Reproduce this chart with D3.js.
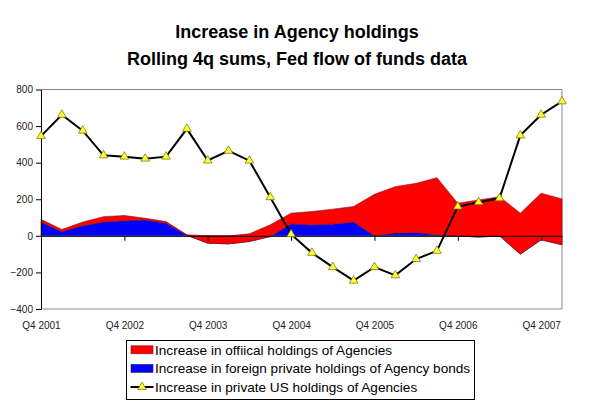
<!DOCTYPE html>
<html>
<head>
<meta charset="utf-8">
<script src="https://cdn.jsdelivr.net/npm/d3@7"></script>
<style>
	body { margin: 0; background: #fff; }
	svg { font-family: "Liberation Sans", Arial, sans-serif; }
</style>
</head>
<body>
<div id="chart-area"></div>
<script>
const FWIDTH = 593,
	FHEIGHT = 405;
const MARGIN = { LEFT: 41, RIGHT: 31, TOP: 89.5, BOTTOM: 96 };

// quarters, Q4 2001 .. Q1 2008
const quarters = [
	"Q4 2001", "Q1 2002", "Q2 2002", "Q3 2002", "Q4 2002", "Q1 2003", "Q2 2003",
	"Q3 2003", "Q4 2003", "Q1 2004", "Q2 2004", "Q3 2004", "Q4 2004", "Q1 2005",
	"Q2 2005", "Q3 2005", "Q4 2005", "Q1 2006", "Q2 2006", "Q3 2006", "Q4 2006",
	"Q1 2007", "Q2 2007", "Q3 2007", "Q4 2007", "Q1 2008",
];
const tickLabels = ["Q4 2001", "Q4 2002", "Q4 2003", "Q4 2004", "Q4 2005", "Q4 2006", "Q4 2007"];
const yTicks = [-400, -200, 0, 200, 400, 600, 800];

// stacked areas: foreign private first, official on top of it
const foreignPrivate = [75, 22, 55, 75, 82, 87, 69, 3, -40, -44, -31, -4, 65, 60, 64, 75, 0, 15, 18, 5, 0, -7, 0, -100, -22, -49];
const official = [15, 13, 20, 30, 29, 9, 9, 3, 40, 44, 42, 64, 59, 73, 82, 85, 227, 254, 269, 313, 178, 203, 214, 224, 255, 251];
const privateUS = [545, 662, 575, 440, 433, 422, 433, 585, 412, 465, 411, 211, 9, -93, -171, -245, -171, -216, -127, -82, 160, 184, 205, 549, 662, 735];

const legendNames = [
	"Increase in offiical holdings of Agencies",
	"Increase in foreign private holdings of Agency bonds",
	"Increase in private US holdings of Agencies",
];

const svg = d3
	.select("#chart-area")
	.append("svg")
	.attr("width", FWIDTH)
	.attr("height", FHEIGHT);

const x = d3
	.scalePoint()
	.domain(quarters)
	.range([MARGIN.LEFT, FWIDTH - MARGIN.RIGHT]);
const y = d3
	.scaleLinear()
	.domain([-400, 800])
	.range([FHEIGHT - MARGIN.BOTTOM, MARGIN.TOP]);

// title
svg.append("text")
	.attr("x", 297)
	.attr("y", 37.5)
	.attr("text-anchor", "middle")
	.style("font-size", "18px")
	.style("font-weight", "bold")
	.text("Increase in Agency holdings");
svg.append("text")
	.attr("x", 297)
	.attr("y", 64.5)
	.attr("text-anchor", "middle")
	.style("font-size", "18px")
	.style("font-weight", "bold")
	.text("Rolling 4q sums, Fed flow of funds data");

// plot border (gray)
const x0 = x.range()[0],
	x1 = x.range()[1];
svg.append("path")
	.attr("d", `M${x0},${y(800)}H${x1}V${y(-400)}H${x0}`)
	.attr("fill", "none")
	.attr("stroke", "#8c8c8c")
	.attr("stroke-width", 1);

const rows = quarters.map((q, i) => ({
	q: q,
	b: foreignPrivate[i],
	t: foreignPrivate[i] + official[i],
}));

const blueArea = d3
	.area()
	.x((d) => x(d.q))
	.y0(y(0))
	.y1((d) => y(d.b));
const redArea = d3
	.area()
	.x((d) => x(d.q))
	.y0((d) => y(d.b))
	.y1((d) => y(d.t));

svg.append("path")
	.attr("d", blueArea(rows))
	.attr("fill", "#0000ff")
	.attr("stroke", "#20206a")
	.attr("stroke-width", 0.6);
svg.append("path")
	.attr("d", redArea(rows))
	.attr("fill", "#ff0000")
	.attr("stroke", "#7a1414")
	.attr("stroke-width", 0.6);

// y axis
const yAxis = svg
	.append("g")
	.attr("transform", `translate(${x0},0)`)
	.call(d3.axisLeft(y).tickValues(yTicks).tickSize(5).tickPadding(3).tickSizeOuter(0));
yAxis.select(".domain").attr("stroke", "#000");
yAxis.selectAll("line").attr("stroke", "#000");
yAxis.selectAll("text").style("font-size", "10px").attr("fill", "#222");

// category axis at zero
const xAxis = svg
	.append("g")
	.attr("transform", `translate(0,${y(0)})`)
	.call(d3.axisBottom(x).tickValues(tickLabels).tickSize(5).tickSizeOuter(0).tickFormat(""));
xAxis.select(".domain").attr("stroke", "#000");
xAxis.selectAll("line").attr("stroke", "#000");

// category labels at the bottom
const xLabels = svg
	.append("g")
	.attr("transform", `translate(0,${y(-400)})`)
	.call(d3.axisBottom(x).tickValues(tickLabels).tickSize(0).tickPadding(13));
xLabels.select(".domain").remove();
xLabels.selectAll("text").style("font-size", "10px").attr("fill", "#222");

// private US line
const line = d3
	.line()
	.x((d, i) => x(quarters[i]))
	.y((d) => y(d));
svg.append("path")
	.attr("d", line(privateUS))
	.attr("fill", "none")
	.attr("stroke", "#000")
	.attr("stroke-width", 2);

const tri = d3.symbol().type(d3.symbolTriangle).size(32);
svg.append("g")
	.selectAll("path")
	.data(privateUS)
	.enter()
	.append("path")
	.attr("d", tri)
	.attr("transform", (d, i) => `translate(${x(quarters[i])},${y(d)})`)
	.attr("fill", "#ffff33")
	.attr("stroke", "#6b6b00")
	.attr("stroke-width", 0.7);

// legend
const legend = svg.append("g").attr("transform", "translate(126.5,340.5)");
legend.append("rect")
	.attr("width", 348)
	.attr("height", 59)
	.attr("fill", "#fff")
	.attr("stroke", "#000");

const legendItems = legend
	.selectAll(".legend-item")
	.data(legendNames)
	.enter()
	.append("g")
	.attr("class", "legend-item")
	.attr("transform", (d, i) => `translate(0, ${9.3 + i * 18.6})`);

legendItems
	.filter((d, i) => i < 2)
	.append("rect")
	.attr("x", 4.5)
	.attr("y", -4)
	.attr("width", 22)
	.attr("height", 8)
	.attr("fill", (d, i) => (i === 0 ? "#ff0000" : "#0000ff"))
	.attr("stroke", (d, i) => (i === 0 ? "#7a1414" : "#20206a"))
	.attr("stroke-width", 0.6);

const lineItem = legendItems.filter((d, i) => i === 2);
lineItem.append("line")
	.attr("x1", 4)
	.attr("x2", 27)
	.attr("stroke", "#000")
	.attr("stroke-width", 2);
lineItem.append("path")
	.attr("d", tri)
	.attr("transform", "translate(15.5,0)")
	.attr("fill", "#ffff33")
	.attr("stroke", "#6b6b00")
	.attr("stroke-width", 0.7);

legendItems
	.append("text")
	.attr("x", 28.5)
	.attr("y", 4.9)
	.style("font-size", "13.6px")
	.text((d) => d);
</script>
</body>
</html>
